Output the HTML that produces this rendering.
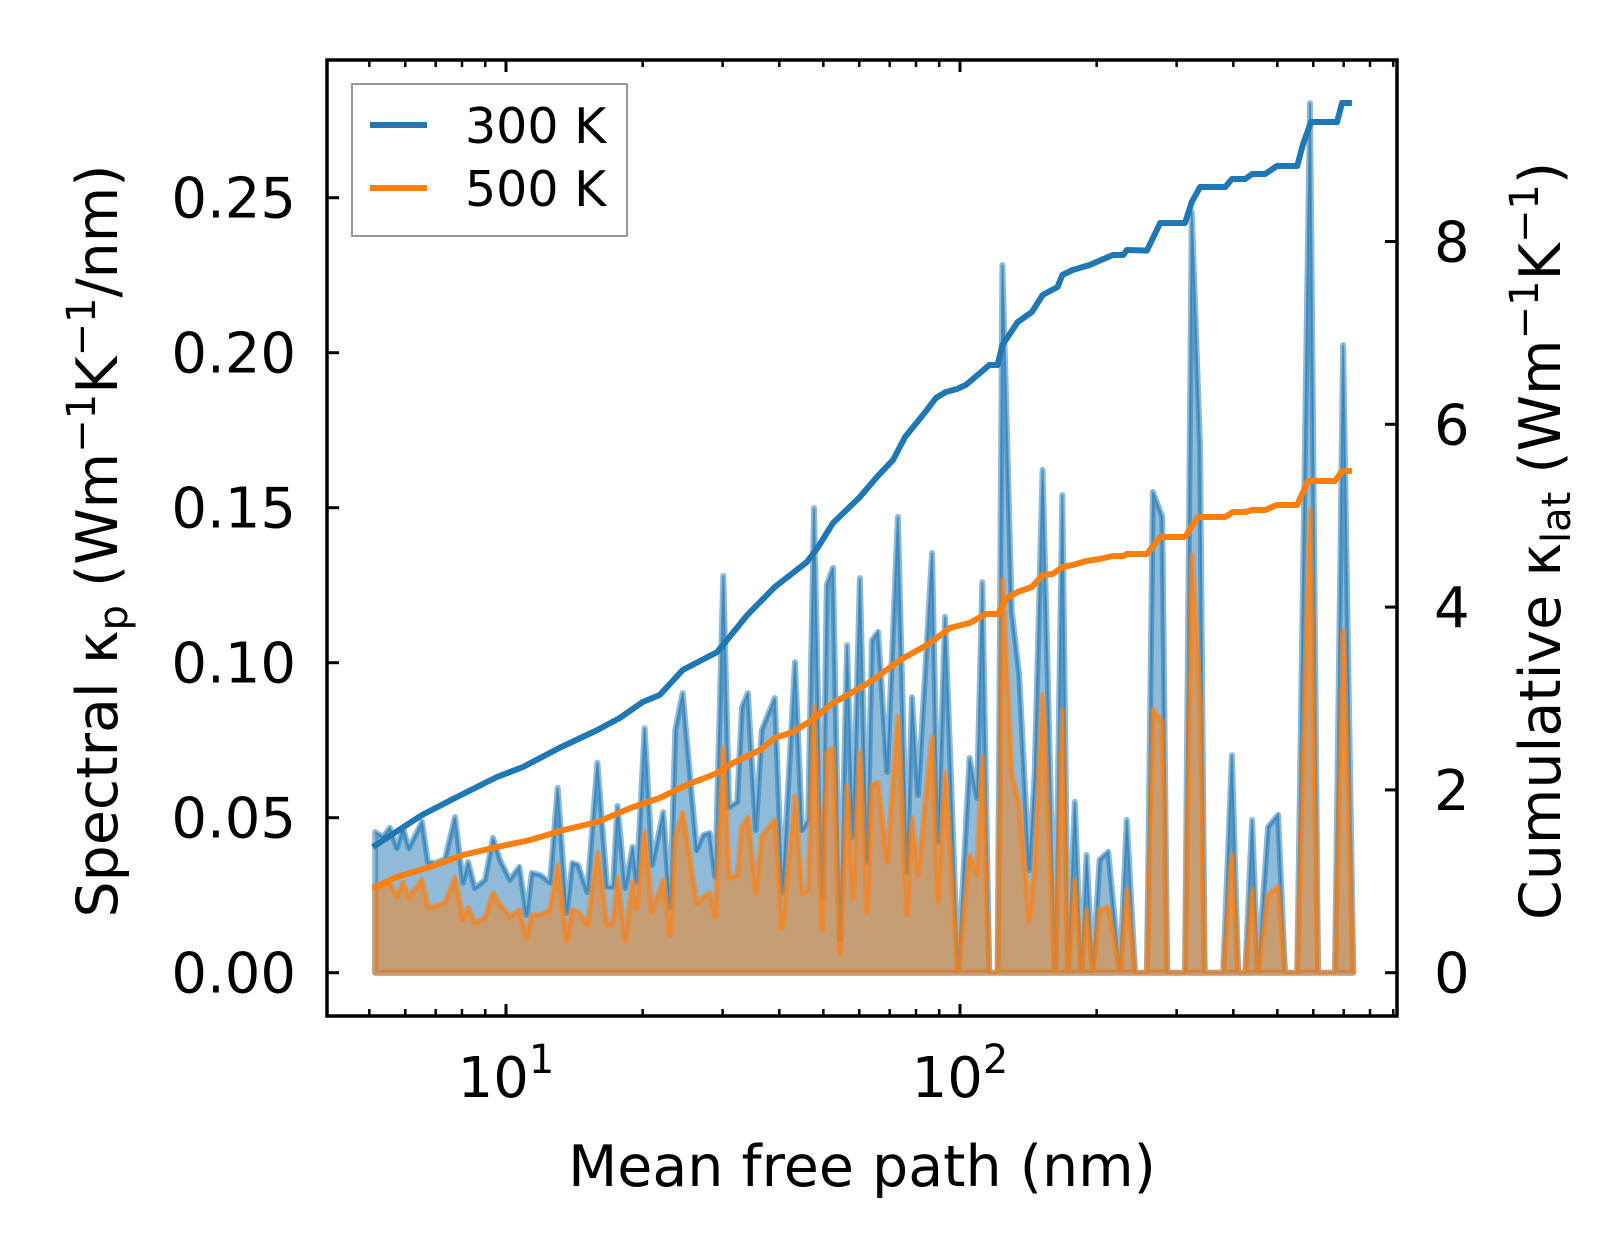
<!DOCTYPE html>
<html><head><meta charset="utf-8"><style>
html,body{margin:0;padding:0;background:#fff;}
svg{display:block;font-family:"DejaVu Sans","Liberation Sans",sans-serif;}
</style></head><body>
<svg id="chart" width="1623" height="1254" xmlns="http://www.w3.org/2000/svg">
<defs><clipPath id="plotclip"><rect x="327" y="60" width="1071" height="956"/></clipPath></defs>
<rect width="1623" height="1254" fill="#fff"/>
<g id="marks" clip-path="url(#plotclip)"></g>
<g id="axes"></g>
<g>
<rect x="352" y="84" width="275" height="152" fill="#fff" fill-opacity="0.8" stroke="#999" stroke-width="2"/>
<line x1="370" y1="125" x2="427" y2="125" stroke="#1f77b4" stroke-width="6"/>
<text x="465" y="143" font-size="49">300 K</text>
<line x1="370" y1="188" x2="427" y2="188" stroke="#ff7f0e" stroke-width="6"/>
<text x="465" y="206" font-size="49">500 K</text>
</g>
<text x="862" y="1186" font-size="57" text-anchor="middle">Mean free path (nm)</text>
<text transform="translate(117,541) rotate(-90)" font-size="57" text-anchor="middle">Spectral κ<tspan font-size="40" dy="10">p</tspan><tspan dy="-10"> (Wm</tspan><tspan font-size="40" dy="-22">−1</tspan><tspan dy="22">K</tspan><tspan font-size="40" dy="-22">−1</tspan><tspan dy="22">/nm)</tspan></text>
<text transform="translate(1560,541) rotate(-90)" font-size="57" text-anchor="middle">Cumulative κ<tspan font-size="40" dy="10">lat</tspan><tspan dy="-10"> (Wm</tspan><tspan font-size="40" dy="-22">−1</tspan><tspan dy="22">K</tspan><tspan font-size="40" dy="-22">−1</tspan><tspan dy="22">)</tspan></text>
</svg>
<script>
const mfp = [5.15,5.36,5.55,5.75,5.93,6.11,6.53,6.73,6.98,7.34,7.72,8.04,8.25,8.54,8.99,9.36,9.70,10.2,10.7,11.1,11.4,11.9,12.5,13.0,13.6,14.0,14.4,15.1,15.9,16.7,17.2,17.6,18.3,19.0,19.4,20.2,21.0,22.2,23.0,23.6,24.5,26.3,27.2,28.1,28.9,30.1,31.0,32.3,33.1,34.1,35.5,36.6,39.1,40.6,43.3,44.9,46.3,47.7,49.7,50.9,52.5,54.4,56.4,58.1,60.2,62.4,64.0,66.0,69.1,73.0,76.4,78.4,80.8,86.8,89.4,92.7,99.0,105,109,112,116,121,124,130,135,142,146,152,162,168,173,179,185,190,196,203,212,225,233,243,258,266,279,286,313,324,338,346,380,397,410,425,440,453,477,502,520,553,590,615,670,698,735];
const spec300 = [.0454,.0438,.0467,.0402,.0467,.0402,.0486,.0357,.0354,.0367,.0502,.0290,.0357,.0273,.0299,.0435,.0364,.0299,.0341,.0186,.0322,.0315,.0290,.0596,.0193,.0354,.0348,.0260,.0677,.0277,.0277,.0538,.0273,.0406,.0290,.0789,.0348,.0518,.0212,.0783,.0902,.0396,.0444,.0451,.0309,.1280,.0534,.0551,.0857,.0902,.0460,.0783,.0886,.0257,.1002,.0460,.0493,.1499,.0244,.1251,.1306,.0105,.1057,.0438,.1273,.0357,.1073,.1099,.0647,.1470,.0322,.0889,.0573,.1354,.0422,.1148,0,.0693,.0564,.1260,0,0,.2283,.1170,.0960,.0331,.0638,.1622,0,.1541,0,.0551,0,.0380,0,.0364,.0390,0,.0493,0,0,.1551,.1470,0,0,.2454,.1686,0,0,.0702,0,0,.0493,0,.0470,.0509,0,0,.2805,0,0,.2025,0];
const spec500 = [.0273,.0283,.0290,.0244,.0290,.0244,.0299,.0209,.0215,.0225,.0306,.0170,.0209,.0161,.0177,.0257,.0219,.0180,.0202,.0112,.0186,.0186,.0202,.0348,.0105,.0202,.0196,.0154,.0386,.0154,.0161,.0306,.0105,.0293,.0209,.0454,.0196,.0299,.0122,.0438,.0515,.0225,.0244,.0257,.0180,.0725,.0306,.0315,.0470,.0502,.0257,.0438,.0493,.0144,.0567,.0257,.0267,.0860,.0138,.0709,.0725,.0063,.0599,.0241,.0712,.0196,.0606,.0612,.0357,.0825,.0186,.0499,.0315,.0761,.0228,.0644,0,.0380,.0315,.0696,0,0,.1267,.0638,.0541,.0170,.0331,.0896,0,.0848,0,.0299,0,.0202,0,.0202,.0212,0,.0267,0,0,.0848,.0809,0,0,.1347,.0880,0,0,.0380,0,0,.0267,0,.0251,.0277,0,0,.1493,0,0,.1105,0];
const cumMfp300 = [5.09,6.53,7.72,9.55,10.9,13.1,15.9,17.8,20.0,21.8,24.5,29.2,34.0,39.1,46.0,48.7,52.5,60.2,65.6,71.2,75.7,84.2,88.5,93.1,98.5,103,110,116,121,124,134,144,152,164,168,177,193,217,229,233,258,276,313,324,338,384,397,425,440,470,499,553,569,593,677,694,730];
const cum300 = [1.375,1.725,1.911,2.141,2.251,2.458,2.655,2.787,2.962,3.038,3.312,3.509,3.914,4.220,4.493,4.658,4.920,5.205,5.423,5.609,5.861,6.146,6.288,6.353,6.386,6.430,6.550,6.649,6.649,6.868,7.119,7.229,7.415,7.502,7.633,7.688,7.743,7.852,7.852,7.907,7.900,8.202,8.202,8.432,8.596,8.596,8.684,8.684,8.738,8.738,8.826,8.826,9.056,9.307,9.307,9.515,9.515];
const cumMfp500 = [5.09,5.75,6.80,8.04,9.55,11.3,13.4,15.9,18.8,21.8,25.0,29.2,31.6,36.3,39.1,42.9,47.2,52.5,60.2,64.3,73.8,84.6,95.0,105,114,121,127,134,144,152,160,168,177,190,203,217,229,233,258,276,313,334,384,399,425,440,470,499,553,584,670,694,730];
const cum500 = [0.927,1.047,1.156,1.288,1.375,1.452,1.561,1.649,1.802,1.911,2.054,2.185,2.294,2.437,2.568,2.633,2.765,2.951,3.115,3.202,3.421,3.585,3.771,3.826,3.924,3.924,4.100,4.165,4.220,4.351,4.362,4.439,4.461,4.504,4.526,4.559,4.559,4.581,4.581,4.767,4.767,4.986,4.986,5.040,5.040,5.062,5.062,5.117,5.117,5.380,5.380,5.489,5.489];
const leftTicks = [0, 0.05, 0.10, 0.15, 0.20, 0.25];
const leftTickLabels = ["0.00","0.05","0.10","0.15","0.20","0.25"];
const rightTicks = [0, 2, 4, 6, 8];
const xMajor = [10, 100];
const xMinor = [5,6,7,8,9,20,30,40,50,60,70,80,90,200,300,400,500,600,700,800,900];

const NS = "http://www.w3.org/2000/svg";
const X0 = 506, DEC = 454, Y0 = 972.7;
function xS(m){ return X0 + (Math.log10(m) - 1) * DEC; }
function yL(v){ return Y0 - v * 3100; }
function yR(v){ return Y0 - v * 91.4; }
function mk(tag, attrs, parent){ const e = document.createElementNS(NS, tag); for (const k in attrs) e.setAttribute(k, attrs[k]); parent.appendChild(e); return e; }
const marks = document.getElementById('marks');
const axes = document.getElementById('axes');

function spectral(vals, color, name){
  let pts = [[xS(mfp[0]), yL(0)]];
  for (let i = 0; i < mfp.length; i++) pts.push([xS(mfp[i]), yL(vals[i])]);
  pts.push([xS(mfp[mfp.length-1]), yL(0)]);
  const p = mk('polygon', {points: pts.map(q => q[0].toFixed(1)+','+q[1].toFixed(1)).join(' '), fill: color, 'fill-opacity': 0.5, stroke: color, 'stroke-opacity': 0.5, 'stroke-width': 6, 'stroke-linejoin': 'round'}, marks);
  
  
  const l = mk('polyline', {points: pts.slice(1, -1).map(q => q[0].toFixed(1)+','+q[1].toFixed(1)).join(' '), fill: 'none', stroke: color, 'stroke-opacity': 0.6, 'stroke-width': 2}, marks);
  
  
}
function cumulative(xs, vals, color, name){
  const pts = xs.map((m, i) => xS(m).toFixed(1) + ',' + yR(vals[i]).toFixed(1)).join(' ');
  const l = mk('polyline', {points: pts, fill: 'none', stroke: color, 'stroke-width': 6, 'stroke-linejoin': 'round'}, marks);
  
  
}
spectral(spec300, '#1f77b4', 'spectral-300k-area');
spectral(spec500, '#ff7f0e', 'spectral-500k-area');
cumulative(cumMfp300, cum300, '#1f77b4', 'cumulative-300k-line');
cumulative(cumMfp500, cum500, '#ff7f0e', 'cumulative-500k-line');

const L = 327, R = 1397, T = 60, B = 1016;
const frame = mk('rect', {x: L, y: T, width: R - L, height: B - T, fill: 'none', stroke: '#000', 'stroke-width': 3.5}, axes);



leftTicks.forEach((v, i) => {
  const y = yL(v);
  const t = mk('line', {x1: L, x2: L + 12, y1: y, y2: y, stroke: '#000', 'stroke-width': 3}, axes);
  
  
  const tx = mk('text', {x: 296, y: y + 20, 'font-size': 56, 'text-anchor': 'end'}, axes);
  tx.textContent = leftTickLabels[i];
  
  
});
rightTicks.forEach(v => {
  const y = yR(v);
  const t = mk('line', {x1: R - 12, x2: R, y1: y, y2: y, stroke: '#000', 'stroke-width': 3}, axes);
  
  
  const tx = mk('text', {x: 1434, y: y + 20, 'font-size': 56}, axes);
  tx.textContent = String(v);
  
  
});
xMajor.forEach(m => {
  const x = xS(m);
  [[B, B - 12], [T, T + 12]].forEach(p => {
    const t = mk('line', {x1: x, x2: x, y1: p[0], y2: p[1], stroke: '#000', 'stroke-width': 3}, axes);
    
    
  });
  const tx = mk('text', {x: x, y: 1097, 'font-size': 56, 'text-anchor': 'middle'}, axes);
  
  
  tx.innerHTML = '10<tspan font-size="40" dy="-24">' + Math.round(Math.log10(m)) + '</tspan>';
});
xMinor.forEach(m => {
  const x = xS(m);
  [[B, B - 7], [T, T + 7]].forEach(p => {
    const t = mk('line', {x1: x, x2: x, y1: p[0], y2: p[1], stroke: '#000', 'stroke-width': 2.5}, axes);
    
    
  });
});
</script>
</body></html>
